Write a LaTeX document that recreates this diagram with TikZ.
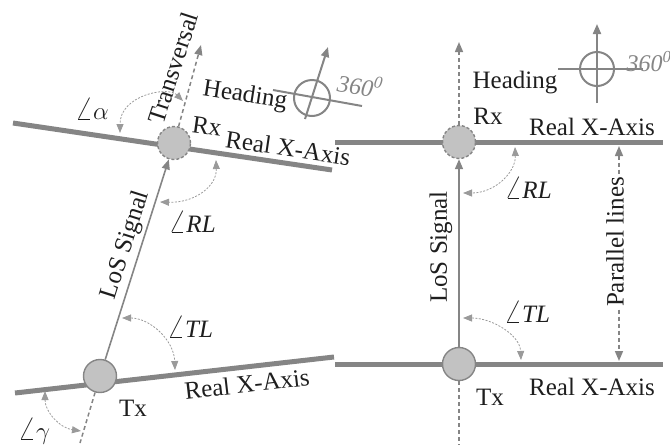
\documentclass[tikz,border=0pt]{standalone}
\usepackage{fontspec}
\setmainfont{Liberation Serif}
\usetikzlibrary{arrows.meta}
\definecolor{axisgray}{HTML}{858585}
\definecolor{fillgray}{HTML}{C2C2C2}
\definecolor{arcgray}{HTML}{9A9A9A}
\definecolor{txt}{HTML}{1E1E1E}
\newcommand{\angsym}{\scalebox{1.35}{$\angle$}}
\begin{document}
\begin{tikzpicture}[x=1pt,y=-1pt,
  every node/.style={font=\fontsize{25}{30}\selectfont, text=txt, inner sep=0pt},
  axisline/.style={line width=5pt, draw=axisgray},
  station/.style={circle, minimum size=33pt, fill=fillgray, draw=axisgray, line width=1.4pt},
  rxstation/.style={station, dash pattern=on 3pt off 2pt},
  bigtip/.style={-{Triangle[length=10pt,width=8pt]}},
  dashline/.style={draw=axisgray, line width=1.5pt, dash pattern=on 4pt off 3pt},
  dasharrow/.style={dashline, bigtip},
  anglearc/.style={draw=arcgray, line width=0.8pt, dash pattern=on 2pt off 1.5pt,
     {Triangle[length=9pt,width=7pt]}-{Triangle[length=9pt,width=7pt]}, fill=none},
  compassline/.style={draw=axisgray, line width=2pt},
  degtext/.style={text=axisgray, font=\fontsize{24}{28}\selectfont\itshape},
]
\useasboundingbox (0,0) rectangle (670,445);

% ---------------- left diagram ----------------
\coordinate (tlA) at (13,123);
\coordinate (tlB) at (332,170);
\coordinate (blA) at (15,393);
\coordinate (blB) at (334,357);
\draw[axisline] (tlA) -- (tlB);
\draw[axisline] (blA) -- (blB);

\node[rxstation] (rxL) at (174,143) {};
\node[station] (txL) at (100,376) {};

\coordinate (transEnd) at (201,45);
\coordinate (txLdown) at (80,443);
\draw[dasharrow] (rxL) -- (transEnd);
\draw[dashline] (txL) -- (txLdown);
\draw[draw=axisgray, line width=1.6pt, bigtip] (txL) -- (rxL);

% angle arcs left
\coordinate (alA) at (183,101);
\coordinate (alB) at (120,133);
\draw[anglearc] (alA) .. controls (168,86) and (120,95) .. (alB);
\coordinate (rlA) at (216,160);
\coordinate (rlB) at (160,202);
\draw[anglearc] (rlA) .. controls (217,186) and (195,203) .. (rlB);
\coordinate (tlcA) at (122,318);
\coordinate (tlcB) at (175,370);
\draw[anglearc] (tlcA) .. controls (150,318) and (174,340) .. (tlcB);
\coordinate (gaA) at (45,391);
\coordinate (gaB) at (81,431);
\draw[anglearc] (gaA) .. controls (45,412) and (60,428) .. (gaB);

% compass left
\node[circle, draw=axisgray, line width=2pt, minimum size=36pt] (cmpL) at (312,98) {};
\coordinate (cmpLa) at (273,90);
\coordinate (cmpLb) at (362,106);
\coordinate (cmpLc) at (305,119);
\coordinate (cmpLd) at (328,47);
\draw[compassline] (cmpLa) -- (cmpLb);
\draw[compassline, bigtip] (cmpLc) -- (cmpLd);

% labels left
\node[rotate=72] (lblTrans) at (173,68) {Transversal};
\node[rotate=-9] (lblHeadL) at (245,96) {Heading};
\node[rotate=-8] (lblRxL) at (207,126) {Rx};
\node[rotate=-8.5] (lblAxTL) at (288,148) {Real X-Axis};
\node[rotate=72.4] (lblLosL) at (126,245) {LoS Signal};
\node (lblAlpha) at (92,109) {\angsym$\alpha$};
\node (lblRLL) at (192,222) {\angsym\textit{RL}};
\node (lblTLL) at (190,327) {\angsym\textit{TL}};
\node (lblGamma) at (34,431) {\angsym$\gamma$};
\node (lblTxL) at (133,408) {Tx};
\node[rotate=6.5] (lblAxBL) at (247,384) {Real X-Axis};
\node[degtext, rotate=-8] (lblDegL) at (360,85) {360\textsuperscript{0}};

% ---------------- right diagram ----------------
\coordinate (trA) at (335,142);
\coordinate (trB) at (663,142);
\coordinate (brA) at (335,364);
\coordinate (brB) at (663,364);
\draw[axisline] (trA) -- (trB);
\draw[axisline] (brA) -- (brB);

\node[rxstation] (rxR) at (459,142) {};
\node[station] (txR) at (459,364) {};

\coordinate (headEnd) at (459,42);
\coordinate (txRdown) at (459,445);
\draw[dasharrow] (rxR) -- (headEnd);
\draw[dashline] (txR) -- (txRdown);
\draw[draw=axisgray, line width=1.6pt, bigtip] (txR) -- (rxR);

% angle arcs right
\coordinate (rrA) at (515,147);
\coordinate (rrB) at (463,193);
\draw[anglearc] (rrA) .. controls (516,172) and (495,193) .. (rrB);
\coordinate (trcA) at (463,318);
\coordinate (trcB) at (521,360);
\draw[anglearc] (trcA) .. controls (492,318) and (520,335) .. (trcB);

% parallel lines arrow
\coordinate (parA) at (619,146);
\coordinate (parB) at (619,361);
\draw[dashline, {Triangle[length=10pt,width=8pt]}-{Triangle[length=10pt,width=8pt]}] (parA) -- (parB);

% compass right
\node[circle, draw=axisgray, line width=2pt, minimum size=34pt] (cmpR) at (597,69) {};
\coordinate (cmpRa) at (558,69);
\coordinate (cmpRb) at (643,69);
\coordinate (cmpRc) at (597,103);
\coordinate (cmpRd) at (597,24);
\draw[compassline] (cmpRa) -- (cmpRb);
\draw[compassline, bigtip] (cmpRc) -- (cmpRd);

% labels right
\node (lblHeadR) at (515,83) {Heading};
\node (lblRxR) at (488,116) {Rx};
\node (lblAxTR) at (592,127) {Real X-Axis};
\node[degtext] (lblDegR) at (649,62) {360\textsuperscript{0}};
\node (lblRLR) at (528,188) {\angsym\textit{RL}};
\node[rotate=90] (lblLosR) at (441,247) {LoS Signal};
\node (lblTLR) at (527,312) {\angsym\textit{TL}};
\node[rotate=90, fill=white, inner ysep=1pt] (lblPar) at (615,242) {Parallel lines};
\node (lblAxBR) at (592,387) {Real X-Axis};
\node (lblTxR) at (490,397) {Tx};
\end{tikzpicture}
\end{document}
